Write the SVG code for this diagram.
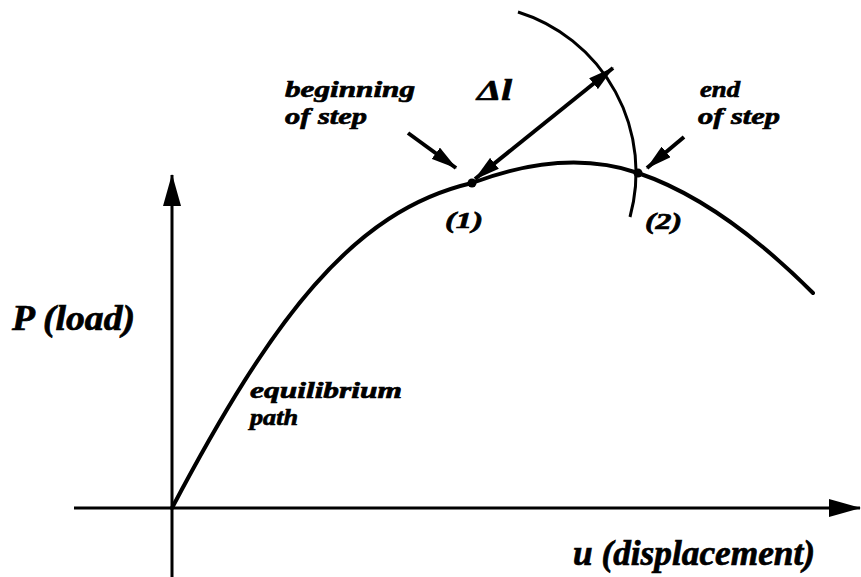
<svg xmlns="http://www.w3.org/2000/svg" width="861" height="577" viewBox="0 0 861 577">
  <style>
    .lbl { font-family: "Liberation Serif", "Times New Roman", serif; font-weight: bold; font-style: italic; fill: #000; stroke: #000; stroke-width: 0.7; }
    .s24 { font-size: 24px; }
    .s32 { font-size: 35px; }
    .ax { stroke: #000; stroke-width: 3; fill: none; }
    .crv { stroke: #000; stroke-width: 4; fill: none; stroke-linecap: round; stroke-linejoin: round; }
    .arr { stroke: #000; stroke-width: 4; fill: none; }
  </style>
  <defs>
    <marker id="axhead" viewBox="0 0 32 18" refX="31" refY="9" markerWidth="32" markerHeight="18" markerUnits="userSpaceOnUse" orient="auto">
      <path d="M0,0 L32,9 L0,18 Z" fill="#000"/>
    </marker>
    <marker id="ah" viewBox="0 0 26 14" refX="25" refY="7" markerWidth="26" markerHeight="14" markerUnits="userSpaceOnUse" orient="auto-start-reverse">
      <path d="M0,0 L26,7 L0,14 Z" fill="#000"/>
    </marker>
  </defs>

  <g id="axes">
    <line id="p-axis" class="ax" x1="172" y1="577" x2="172" y2="175" marker-end="url(#axhead)"/>
    <line id="u-axis" class="ax" x1="74" y1="508" x2="860" y2="508" marker-end="url(#axhead)"/>
  </g>

  <g id="equilibrium-path">
    <path class="crv" d="M172,508 C272,319 352,211 472,183 Q565,148 638,173 Q721,201 813,293"/>
  </g>

  <g id="constraint-arc">
    <path class="ax" d="M518,12 A168,168 0 0,1 630,217"/>
  </g>

  <g id="point-1">
    <circle cx="472" cy="183" r="4.5" fill="#000"/>
    <text class="lbl s24" x="445" y="228" textLength="38" lengthAdjust="spacingAndGlyphs">(1)</text>
  </g>
  <g id="point-2">
    <circle cx="638" cy="173" r="4.5" fill="#000"/>
    <text class="lbl s24" x="645" y="229" textLength="37" lengthAdjust="spacingAndGlyphs">(2)</text>
  </g>

  <g id="connectors">
    <line id="delta-l" class="arr" x1="475" y1="179" x2="613" y2="68" marker-start="url(#ah)" marker-end="url(#ah)"/>
    <line id="begin-ptr" class="arr" x1="408" y1="133" x2="456" y2="168" marker-end="url(#ah)"/>
    <line id="end-ptr" class="arr" x1="684" y1="137" x2="647" y2="168" marker-end="url(#ah)"/>
  </g>

  <g id="labels">
    <text class="lbl s24" x="285" y="97" textLength="130" lengthAdjust="spacingAndGlyphs">beginning</text>
    <text class="lbl s24" x="285" y="124" textLength="82" lengthAdjust="spacingAndGlyphs">of step</text>
    <text class="lbl" style="font-size:30px" x="477" y="100" textLength="35" lengthAdjust="spacingAndGlyphs">Δl</text>
    <text class="lbl s24" x="700" y="97" textLength="40" lengthAdjust="spacingAndGlyphs">end</text>
    <text class="lbl s24" x="698" y="124" textLength="82" lengthAdjust="spacingAndGlyphs">of step</text>
    <text class="lbl s32" x="12" y="330" textLength="123" lengthAdjust="spacingAndGlyphs">P (load)</text>
    <text class="lbl s24" x="250" y="398" textLength="152" lengthAdjust="spacingAndGlyphs">equilibrium</text>
    <text class="lbl s24" x="250" y="425" textLength="48" lengthAdjust="spacingAndGlyphs">path</text>
    <text class="lbl s32" x="573" y="565" textLength="242" lengthAdjust="spacingAndGlyphs">u (displacement)</text>
  </g>
</svg>
